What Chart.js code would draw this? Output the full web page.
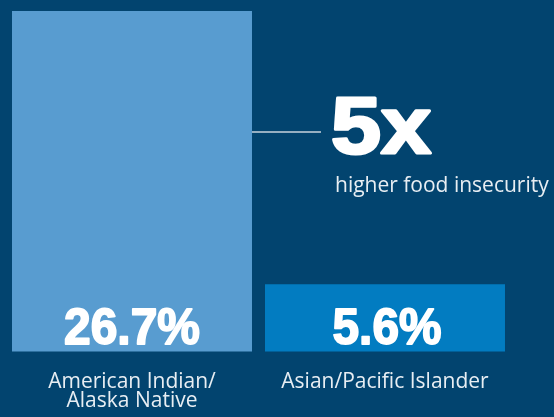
<!DOCTYPE html>
<html>
<head>
<meta charset="utf-8">
<script src="https://cdn.jsdelivr.net/npm/chart.js@4/dist/chart.umd.min.js"></script>
<style>
  html, body { margin: 0; padding: 0; background: #02446f; }
  #wrap { width: 554px; height: 417px; }
</style>
</head>
<body>
<div id="wrap"><canvas id="chart" width="554" height="417"></canvas></div>
<script>
// Food insecurity rate by group
const categories = [['American Indian/', 'Alaska Native'], 'Asian/Pacific Islander'];
const rates = [26.7, 5.6];
const valueLabels = ['26.7%', '5.6%'];
const barColors = ['#589cd0', '#027cc1'];

const multipleLabel = '5x';
const multipleCaption = 'higher food insecurity';

const BOLD = "'Liberation Sans', Arial, sans-serif";
const LIGHT = "'Open Sans', sans-serif";

// Draw heavy text squeezed/stretched horizontally to a target width
function drawFit(ctx, text, x, y, font, width, align, weight) {
  ctx.save();
  ctx.font = font;
  const w = ctx.measureText(text).width;
  const sx = width / w;
  const left = align === 'center' ? x - width / 2 : x;
  ctx.translate(left, y);
  ctx.scale(sx, 1);
  ctx.textAlign = 'left';
  ctx.textBaseline = 'alphabetic';
  ctx.fillStyle = '#ffffff';
  ctx.strokeStyle = '#ffffff';
  ctx.lineWidth = weight;
  ctx.lineJoin = 'round';
  ctx.fillText(text, 0, 0);
  ctx.strokeText(text, 0, 0);
  ctx.restore();
}

const annotations = {
  id: 'annotations',
  afterDatasetsDraw(chart) {
    const ctx = chart.ctx;
    const bars = chart.getDatasetMeta(0).data;

    // value labels inside bar bottoms
    drawFit(ctx, valueLabels[0], bars[0].x, bars[0].base - 13, 'bold 50px ' + BOLD, 136, 'center', 1.8);
    drawFit(ctx, valueLabels[1], bars[1].x + 2, bars[1].base - 13, 'bold 50px ' + BOLD, 109, 'center', 1.8);

    // callout line from first bar
    const x0 = bars[0].x + bars[0].width / 2;
    ctx.save();
    ctx.strokeStyle = '#c9d3dc';
    ctx.lineWidth = 1.5;
    ctx.beginPath();
    ctx.moveTo(x0, 132);
    ctx.lineTo(321, 132);
    ctx.stroke();
    ctx.restore();

    drawFit(ctx, multipleLabel, 331, 153, 'bold 80px ' + BOLD, 100, 'left', 3);

    ctx.save();
    ctx.fillStyle = '#e8eef3';
    ctx.font = '21px ' + LIGHT;
    ctx.textAlign = 'left';
    ctx.textBaseline = 'alphabetic';
    ctx.fillText(multipleCaption, 335, 192);
    ctx.restore();
  }
};

new Chart(document.getElementById('chart'), {
  type: 'bar',
  data: {
    labels: categories,
    datasets: [{
      data: rates,
      backgroundColor: barColors,
      borderWidth: 0,
      barPercentage: 0.9486,
      categoryPercentage: 1,
    }],
  },
  options: {
    responsive: false,
    animation: false,
    layout: { padding: { left: 5.5, right: 42.5, top: 11, bottom: 6.5 } },
    plugins: { legend: { display: false }, tooltip: { enabled: false } },
    scales: {
      x: {
        grid: { display: false, drawTicks: false },
        border: { display: false },
        ticks: {
          color: '#e8eef3',
          padding: 21,
          font: { family: LIGHT, size: 21, lineHeight: 0.9 },
        },
        afterFit(scale) { scale.height = 59; },
      },
      y: {
        display: false,
        min: 0.4,
        max: 26.7,
      },
    },
  },
  plugins: [annotations],
});
</script>
</body>
</html>
